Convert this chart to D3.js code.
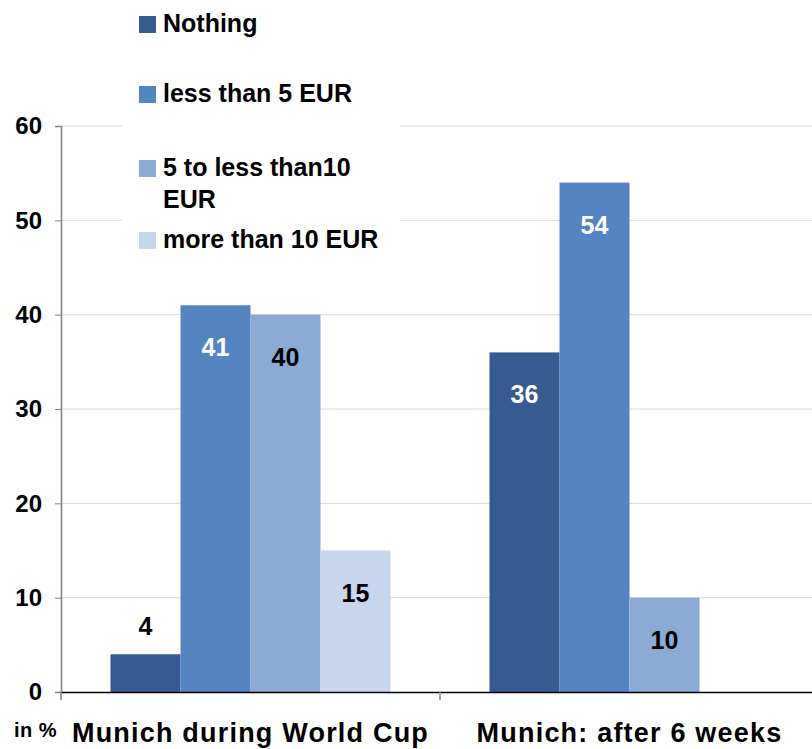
<!DOCTYPE html>
<html>
<head>
<meta charset="utf-8">
<script src="https://cdn.jsdelivr.net/npm/d3@7"></script>
<style>
  body { margin: 0; background: #fff; }
  svg { display: block; font-family: "Liberation Sans", Arial, sans-serif; font-weight: bold; }
</style>
</head>
<body>
<svg width="812" height="749"></svg>
<script>
const categories = ['Munich during World Cup', 'Munich: after 6 weeks'];
const seriesNames = ['Nothing', 'less than 5 EUR', '5 to less than10 EUR', 'more than 10 EUR'];
const nothing = [4, 36];
const lessThan5 = [41, 54];
const from5to10 = [40, 10];
const moreThan10 = [15, null];
const yTicks = [0, 10, 20, 30, 40, 50, 60];

const colors = ['#375b91', '#5584c2', '#8babd6', '#c6d6ec'];
const labelColors = ['#fff', '#fff', '#000', '#000'];

const series = [nothing, lessThan5, from5to10, moreThan10];

const svg = d3.select('svg');
const plotLeft = 61, plotRight = 819, plotTop = 126, plotBottom = 692;

const x0 = d3.scaleBand().domain(categories).range([plotLeft, plotRight]).paddingInner(0).paddingOuter(0);
const x1 = d3.scaleBand().domain(seriesNames).range([0, x0.bandwidth()]).paddingOuter(0.707);
const y = d3.scaleLinear().domain([0, 60]).range([plotBottom, plotTop]);

// gridlines
svg.append('g')
  .selectAll('line')
  .data(yTicks.filter(d => d > 0))
  .enter()
  .append('line')
  .attr('x1', plotLeft).attr('x2', 812)
  .attr('y1', d => y(d)).attr('y2', d => y(d))
  .attr('stroke', '#d9d9d9').attr('stroke-width', 1);

// bars
const rows = [];
categories.forEach((c, i) => {
  seriesNames.forEach((s, j) => {
    if (series[j][i] != null) rows.push({ cat: c, name: s, idx: j, value: series[j][i] });
  });
});

svg.append('g')
  .selectAll('rect')
  .data(rows)
  .enter()
  .append('rect')
  .attr('x', d => x0(d.cat) + x1(d.name))
  .attr('width', x1.bandwidth())
  .attr('y', d => y(d.value))
  .attr('height', d => y(0) - y(d.value))
  .attr('fill', d => colors[d.idx]);

// value labels: inside near top, or above if bar is short
svg.append('g')
  .selectAll('text')
  .data(rows)
  .enter()
  .append('text')
  .attr('x', d => x0(d.cat) + x1(d.name) + x1.bandwidth() / 2)
  .attr('y', d => d.value < 8 ? y(d.value) - 19 : y(d.value) + 51)
  .attr('text-anchor', 'middle')
  .attr('font-size', 25)
  .attr('fill', d => d.value < 8 ? '#000' : labelColors[d.idx])
  .text(d => d.value);

// y axis
const yAxis = svg.append('g')
  .attr('transform', `translate(${plotLeft},0)`)
  .call(d3.axisLeft(y).tickValues(yTicks).tickSize(6).tickPadding(13));
yAxis.select('.domain').attr('stroke', '#808080').attr('stroke-width', 1.5);
yAxis.selectAll('.tick line').attr('stroke', '#808080');
yAxis.selectAll('.tick text')
  .attr('font-size', 24).attr('font-family', '"Liberation Sans", Arial, sans-serif')
  .attr('font-weight', 'bold').attr('fill', '#000');

// x axis
const xAxis = svg.append('g')
  .attr('transform', `translate(0,${plotBottom})`)
  .call(d3.axisBottom(x0).tickSize(0).tickPadding(31));
xAxis.select('.domain').attr('stroke', '#000').attr('stroke-width', 1.5);
xAxis.selectAll('.tick text')
  .attr('font-size', 27).attr('font-family', '"Liberation Sans", Arial, sans-serif')
  .attr('font-weight', 'bold').attr('fill', '#000').attr('letter-spacing', 1.2);

// category separator ticks
svg.append('g')
  .selectAll('line')
  .data(categories)
  .enter()
  .append('line')
  .attr('x1', d => x0(d)).attr('x2', d => x0(d))
  .attr('y1', plotBottom).attr('y2', plotBottom + 8)
  .attr('stroke', '#808080').attr('stroke-width', 1.5);

svg.append('text')
  .attr('x', 14).attr('y', 737)
  .attr('font-size', 20)
  .attr('letter-spacing', 0.5)
  .text('in %');

// legend
const legend = svg.append('g');
legend.append('rect')
  .attr('x', 122).attr('y', 0).attr('width', 278).attr('height', 262)
  .attr('fill', '#fff');
const legendBase = [32, 102, 176, 248];
const legendLines = [['Nothing'], ['less than 5 EUR'], ['5 to less than10', 'EUR'], ['more than 10 EUR']];
seriesNames.forEach((s, i) => {
  legend.append('rect')
    .attr('x', 139).attr('y', legendBase[i] - 16).attr('width', 17).attr('height', 17)
    .attr('fill', colors[i]);
  const t = legend.append('text')
    .attr('x', 163).attr('y', legendBase[i])
    .attr('font-size', 25);
  legendLines[i].forEach((line, k) => {
    t.append('tspan').attr('x', 163).attr('dy', k === 0 ? 0 : 32).text(line);
  });
});
</script>
</body>
</html>
